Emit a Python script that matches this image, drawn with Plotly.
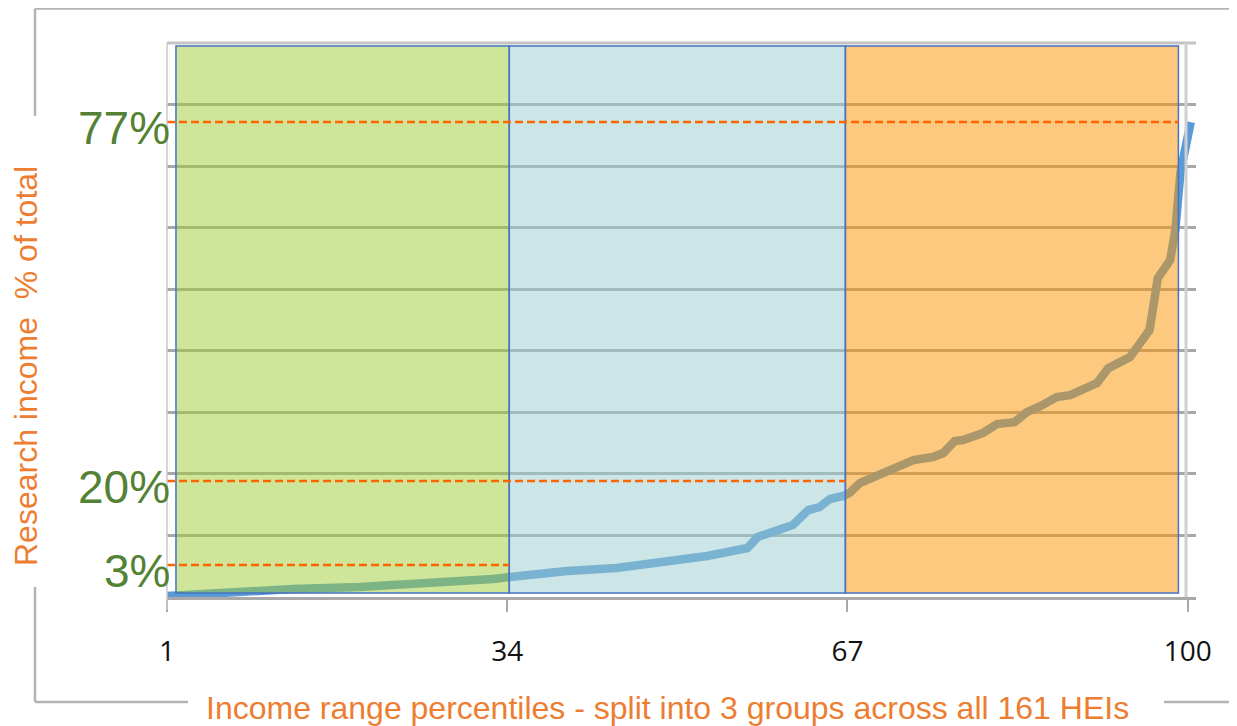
import plotly.graph_objects as go

# ---- data ----
percentile = [1.0, 6.8, 13.2, 19.7, 26.2, 32.6, 34.3, 39.8, 44.6, 48.8, 51.4, 53.4,
              57.3, 58.3, 61.7, 63.2, 64.3, 65.3, 66.6, 67.2, 68.2, 69.5, 71.4, 73.4,
              75.3, 76.3, 77.4, 78.2, 80.1, 81.5, 83.2, 84.4, 85.7, 87.3, 88.6, 89.6,
              91.2, 92.3, 94.4, 96.3, 97.1, 98.3, 98.8, 99.3, 100.3]
research_share = [0.16, 0.81, 1.30, 1.62, 2.11, 2.92, 3.25, 4.22, 4.71, 5.69, 6.17, 6.66,
                  7.96, 9.75, 11.70, 14.13, 14.62, 15.92, 16.41, 16.89, 18.52, 19.49, 20.95, 22.25,
                  22.74, 23.39, 25.33, 25.49, 26.62, 28.08, 28.41, 30.03, 31.01, 32.47, 32.79, 33.60,
                  34.74, 37.18, 38.97, 43.37, 51.82, 54.74, 59.62, 69.04, 77.16]
tick_values = [1, 34, 67, 100]
tick_labels = ["1", "34", "67", "100"]
group_names = ["Low", "Middle", "High"]
group_colors = ["rgba(159,205,53,0.5)", "rgba(153,203,207,0.5)", "rgba(251,147,0,0.5)"]
ref_levels = [5.2, 18.84, 77.16]
ref_labels = ["3%", "20%", "77%"]
ref_end_group = [0, 1, 2]

W, H = 1237, 726
OFF = 8                                   # browser body margin
L, R, T, B = 167, 1196, 43, 597          # plot area in window pixels


def px(xp):
    return (xp - L) / (R - L)


def py(yp):
    return (B - yp) / (B - T)


band_edges = [1.87, 34.2, 66.8, 99.1]

fig = go.Figure()
fig.add_trace(go.Scatter(x=percentile, y=research_share, mode="lines",
                         line=dict(color="#5b9bd5", width=8.5),
                         hoverinfo="skip", showlegend=False))

shapes = []
# coloured bands (above the line, translucent)
for i, c in enumerate(group_colors):
    shapes.append(dict(type="rect", xref="x", yref="y", layer="above",
                       x0=band_edges[i], x1=band_edges[i + 1], y0=0.65, y1=89.5,
                       fillcolor=c, line=dict(color="#4472c4", width=1.5)))
# dashed reference lines
for lvl, g in zip(ref_levels, ref_end_group):
    shapes.append(dict(type="line", xref="x", yref="y", layer="above",
                       x0=1, x1=band_edges[g + 1], y0=lvl, y1=lvl,
                       line=dict(color="#ff6600", width=2.5, dash="8px,4px")))
# plot frame
shapes.append(dict(type="line", xref="paper", yref="paper", x0=0, x1=1, y0=1, y1=1,
                   line=dict(color="#c4c4c4", width=3)))
shapes.append(dict(type="line", xref="paper", yref="paper", x0=px(1186), x1=px(1186), y0=0, y1=1,
                   line=dict(color="#cfcfcf", width=3)))
shapes.append(dict(type="line", xref="paper", yref="paper", x0=0, x1=0, y0=py(610), y1=1,
                   line=dict(color="#c8c8c8", width=1.5)))
# outer chart border (interrupted by the titles)
border = dict(color="#b4b4b4", width=2.5)
shapes += [
    dict(type="line", xref="paper", yref="paper", x0=px(35), x1=px(1240), y0=py(8.5), y1=py(8.5), line=border),
    dict(type="line", xref="paper", yref="paper", x0=px(35), x1=px(35), y0=py(8.5), y1=py(116), line=border),
    dict(type="line", xref="paper", yref="paper", x0=px(35), x1=px(35), y0=py(587), y1=py(702), line=border),
    dict(type="line", xref="paper", yref="paper", x0=px(35), x1=px(188), y0=py(702), y1=py(702), line=border),
    dict(type="line", xref="paper", yref="paper", x0=px(1164), x1=px(1240), y0=py(702), y1=py(702), line=border),
]

annotations = []
for lvl, lab in zip(ref_levels, ref_labels):
    annotations.append(dict(xref="paper", yref="y", x=px(172), y=lvl, yshift=-6,
                            text=lab, showarrow=False, xanchor="right", yanchor="middle",
                            font=dict(family="Liberation Sans, Arial, sans-serif", size=46,
                                      color="#548235")))
annotations.append(dict(xref="paper", yref="paper", x=px(26), y=py(366),
                        text="Research income  % of total", textangle=-90, showarrow=False,
                        xanchor="center", yanchor="middle",
                        font=dict(family="Liberation Sans, Arial, sans-serif", size=32,
                                  color="#ed7d31")))
annotations.append(dict(xref="paper", yref="paper", x=px(667), y=py(708),
                        text="Income range percentiles - split into 3 groups across all 161 HEIs",
                        showarrow=False, xanchor="center", yanchor="middle",
                        font=dict(family="Liberation Sans, Arial, sans-serif", size=32,
                                  color="#ed7d31")))

fig.update_layout(
    width=W - OFF, height=H - OFF,
    margin=dict(l=L - OFF, r=W - R, t=T - OFF, b=H - B, pad=0),
    paper_bgcolor="white", plot_bgcolor="white",
    shapes=shapes, annotations=annotations,
    xaxis=dict(range=[1, 1 + (R - L) / 10.31], tickvals=tick_values, ticktext=tick_labels,
               showgrid=False, zeroline=False, showline=True, linecolor="#a9a9a9", linewidth=3,
               ticks="outside", ticklen=12, tickwidth=1.5, tickcolor="#a9a9a9",
               ticklabelstandoff=15,
               tickfont=dict(family="Open Sans, sans-serif", size=28, color="#111111")),
    yaxis=dict(range=[0, 90], dtick=10, showgrid=True, gridcolor="#a8a8a8", gridwidth=2.5,
               zeroline=False, showticklabels=False, showline=False, ticks=""),
    showlegend=False,
)

fig.write_html("out.html")
